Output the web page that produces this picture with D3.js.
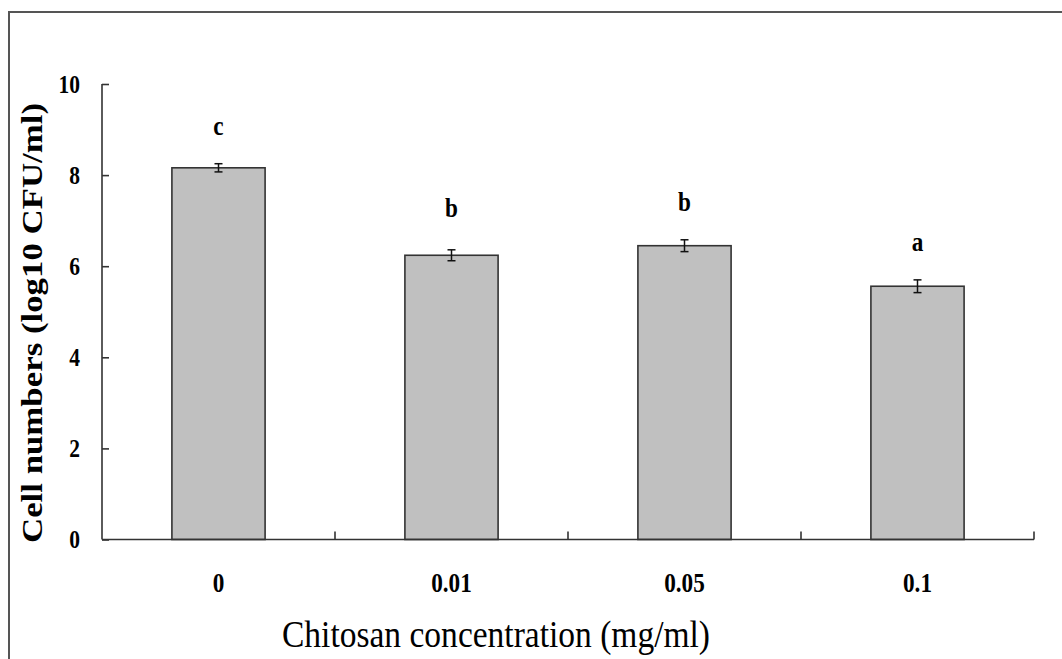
<!DOCTYPE html>
<html>
<head>
<meta charset="utf-8">
<script src="https://cdn.jsdelivr.net/npm/d3@7"></script>
<style>
  body { margin: 0; background: #fff; }
  text { font-family: "Liberation Serif", "Times New Roman", serif; fill: #000; }
</style>
</head>
<body>
<svg width="1062" height="659"></svg>
<script>
const concentrations = ["0", "0.01", "0.05", "0.1"];
const cellCounts = [8.16, 6.24, 6.45, 5.56];
const errors = [0.09, 0.12, 0.13, 0.14];
const letters = ["c", "b", "b", "a"];
const yTicks = [0, 2, 4, 6, 8, 10];

const squeeze = 0.86; // the scan is narrower than tall, text looks condensed

const svg = d3.select("svg");

// outer frame, runs off the right and bottom like the original scan
svg.append("rect")
  .attr("x", 9).attr("y", 12)
  .attr("width", 1100).attr("height", 700)
  .attr("fill", "none")
  .attr("stroke", "#555")
  .attr("stroke-width", 2);

const plotLeft = 102, plotRight = 1034, plotTop = 84, plotBottom = 539.5;

const x = d3.scaleBand()
  .domain(concentrations)
  .range([plotLeft, plotRight])
  .paddingInner(0.6)
  .paddingOuter(0.3);

const xCat = d3.scaleBand().domain(concentrations).range([plotLeft, plotRight]);

const y = d3.scaleLinear().domain([0, 10]).range([plotBottom, plotTop]);

// bars
svg.append("g").selectAll("rect")
  .data(cellCounts)
  .join("rect")
  .attr("x", (d, i) => x(concentrations[i]))
  .attr("y", d => y(d))
  .attr("width", x.bandwidth())
  .attr("height", d => y(0) - y(d))
  .attr("fill", "#c0c0c0")
  .attr("stroke", "#333")
  .attr("stroke-width", 1.6);

// error bars
const eb = svg.append("g").attr("stroke", "#111").attr("stroke-width", 1.5);
cellCounts.forEach((v, i) => {
  const cx = x(concentrations[i]) + x.bandwidth() / 2;
  eb.append("line").attr("x1", cx).attr("x2", cx).attr("y1", y(v + errors[i])).attr("y2", y(v - errors[i]));
  eb.append("line").attr("x1", cx - 4).attr("x2", cx + 4).attr("y1", y(v + errors[i])).attr("y2", y(v + errors[i]));
  eb.append("line").attr("x1", cx - 4).attr("x2", cx + 4).attr("y1", y(v - errors[i])).attr("y2", y(v - errors[i]));
});

// significance letters
svg.append("g").selectAll("text")
  .data(letters)
  .join("text")
  .attr("transform", (d, i) => {
    const lx = x(concentrations[i]) + x.bandwidth() / 2;
    const ly = y(cellCounts[i] + errors[i]) - (i === 1 ? 33 : 29);
    return `translate(${lx},${ly}) scale(${squeeze},1)`;
  })
  .attr("text-anchor", "middle")
  .attr("font-weight", "bold")
  .attr("font-size", 27)
  .text(d => d);

// y axis (ticks point inward)
const yAxis = svg.append("g")
  .attr("transform", `translate(${plotLeft},0)`)
  .call(d3.axisRight(y).tickValues(yTicks).tickSize(7).tickFormat(""));
yAxis.select(".domain").attr("d", `M0,${plotTop}V${plotBottom}`);
yAxis.selectAll("line, path").attr("stroke", "#333").attr("stroke-width", 1.6);

svg.append("g").selectAll("text")
  .data(yTicks)
  .join("text")
  .attr("transform", d => `translate(80,${y(d)}) scale(${squeeze},1)`)
  .attr("dy", "0.35em")
  .attr("text-anchor", "end")
  .attr("font-weight", "bold")
  .attr("font-size", 25)
  .text(d => d);

// x axis: category boundaries as ticks, pointing up
const bounds = concentrations.map(c => xCat(c) + xCat.bandwidth());
const xAxis = svg.append("g");
xAxis.append("line")
  .attr("x1", plotLeft).attr("x2", plotRight)
  .attr("y1", y(0)).attr("y2", y(0))
  .attr("stroke", "#333").attr("stroke-width", 1.6);
xAxis.selectAll(".tk")
  .data(bounds)
  .join("line")
  .attr("class", "tk")
  .attr("x1", d => d).attr("x2", d => d)
  .attr("y1", y(0)).attr("y2", y(0) - 8)
  .attr("stroke", "#333").attr("stroke-width", 1.6);

svg.append("g").selectAll("text")
  .data(concentrations)
  .join("text")
  .attr("transform", d => `translate(${xCat(d) + xCat.bandwidth() / 2},592) scale(${squeeze},1)`)
  .attr("text-anchor", "middle")
  .attr("font-weight", "bold")
  .attr("font-size", 27)
  .text(d => d);

// axis titles
svg.append("text")
  .attr("x", 282).attr("y", 647)
  .attr("font-size", 37)
  .attr("textLength", 428)
  .attr("lengthAdjust", "spacingAndGlyphs")
  .text("Chitosan concentration (mg/ml)");

svg.append("text")
  .attr("transform", "translate(42,543) rotate(-90)")
  .attr("font-size", 29)
  .attr("font-weight", "bold")
  .attr("textLength", 440)
  .attr("lengthAdjust", "spacingAndGlyphs")
  .text("Cell numbers (log10 CFU/ml)");
</script>
</body>
</html>
